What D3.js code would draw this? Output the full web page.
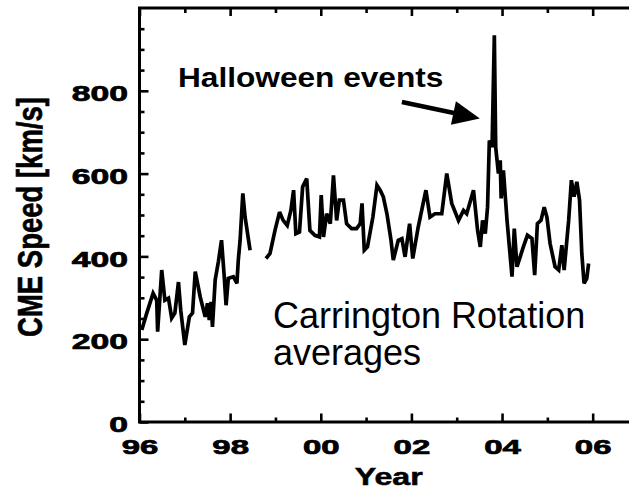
<!DOCTYPE html>
<html><head><meta charset="utf-8">
<script src="https://cdn.jsdelivr.net/npm/d3@7"></script>
<style>body{margin:0;background:#fff}svg{display:block}</style></head>
<body>
<svg id="c" width="629" height="488"></svg>
<script>
// Carrington-rotation averaged CME speeds (null = data gap, mid-1998)
const years = [
 1996.05,1996.16,1996.30,1996.38,1996.40,1996.49,1996.56,1996.64,1996.71,1996.78,
 1996.86,1996.91,1997.00,1997.10,1997.17,1997.23,1997.34,1997.45,1997.50,1997.54,
 1997.58,1997.61,1997.67,1997.74,1997.81,1997.87,1997.91,1997.96,1998.07,1998.15,
 1998.18,1998.22,1998.28,1998.33,1998.44,
 1998.60,
 1998.79,1998.88,1998.99,1999.09,1999.17,1999.26,1999.34,1999.40,1999.45,1999.53,
 1999.60,1999.69,1999.76,1999.87,1999.97,2000.01,2000.06,2000.13,2000.21,2000.28,
 2000.35,2000.41,2000.50,2000.57,2000.68,2000.79,2000.87,2000.91,2000.96,2001.03,
 2001.15,2001.24,2001.31,2001.38,2001.46,2001.55,2001.60,2001.71,2001.79,2001.86,
 2001.96,2002.03,2002.15,2002.32,2002.41,2002.52,2002.67,2002.78,2002.89,2003.04,
 2003.15,2003.22,2003.37,2003.46,2003.52,2003.57,2003.63,2003.68,2003.72,2003.78,
 2003.83,2003.86,2003.92,2003.96,2003.98,2004.03,2004.11,2004.22,2004.27,2004.33,
 2004.40,2004.47,2004.56,2004.66,2004.72,2004.78,2004.86,2004.93,2004.99,2005.06,
 2005.17,2005.25,2005.32,2005.37,2005.47,2005.53,2005.59,2005.65,2005.71,2005.76,
 2005.81,2005.87,2005.91
];
const speeds = [
 222,263,311,294,218,367,294,299,251,263,
 338,270,186,254,263,363,302,254,287,246,
 290,230,343,387,439,351,282,347,351,335,
 391,439,552,495,415,
 null,
 395,407,463,507,487,475,511,560,455,459,
 568,588,463,451,447,548,447,503,479,596,
 487,536,536,479,467,467,479,528,415,423,
 495,572,560,544,503,439,391,439,443,399,
 479,395,471,560,495,503,503,600,528,487,
 511,503,560,463,423,487,455,519,680,664,
 934,664,600,632,540,608,487,351,467,375,
 399,423,451,443,355,479,487,519,495,431,
 375,367,427,367,487,584,544,580,536,407,
 335,347,383
];
const xTicks = [1996,1998,2000,2002,2004,2006];
const xTickLabels = ["96","98","00","02","04","06"];
const xMinor = [1997,1999,2001,2003,2005,2007];
const yTicks = [0,200,400,600,800];
const yTickLabels = ["0","200","400","600","800"];
const yMinor = [50,100,150,250,300,350,450,500,550,650,700,750,850,900,950];
const arrowFrom = [2001.79, 773];
const arrowTo = [2003.51, 733];

const svg = d3.select("#c");
const x = d3.scaleLinear().domain([1996,2007]).range([139.5,638]);
const y = d3.scaleLinear().domain([0,1000]).range([422,8]);
const FONT = "'Liberation Sans', Arial, Helvetica, sans-serif";

function styleAxis(g){
  g.select(".domain").remove();
  g.selectAll(".tick line").attr("stroke","#000").attr("stroke-width",2.6);
}
// minor ticks
svg.append("g").attr("transform",`translate(0,${y(0)})`)
  .call(d3.axisBottom(x).tickValues(xMinor).tickSizeInner(-4.5).tickSizeOuter(0).tickFormat(""))
  .call(styleAxis);
svg.append("g").attr("transform",`translate(0,${y(1000)})`)
  .call(d3.axisTop(x).tickValues(xMinor).tickSizeInner(-5).tickSizeOuter(0).tickFormat(""))
  .call(styleAxis);
svg.append("g").attr("transform",`translate(${x(1996)},0)`)
  .call(d3.axisLeft(y).tickValues(yMinor).tickSizeInner(-5).tickSizeOuter(0).tickFormat(""))
  .call(styleAxis);
svg.append("g").attr("transform",`translate(${x(2007)},0)`)
  .call(d3.axisRight(y).tickValues(yMinor).tickSizeInner(-5).tickSizeOuter(0).tickFormat(""))
  .call(styleAxis);
// major ticks
const SX = 1.57;
const bx = svg.append("g").attr("transform",`translate(0,${y(0)})`)
  .call(d3.axisBottom(x).tickValues(xTicks).tickSizeInner(-8.5).tickSizeOuter(0)
    .tickPadding(17.5).tickFormat((d,i)=>xTickLabels[i]))
  .call(styleAxis);
bx.selectAll("text").attr("fill","#000").attr("font-family",FONT).attr("font-weight","bold")
  .attr("font-size",21).attr("stroke","#000").attr("stroke-width",0.7)
  .attr("transform",`scale(${SX},1)`);
svg.append("g").attr("transform",`translate(0,${y(1000)})`)
  .call(d3.axisTop(x).tickValues(xTicks).tickSizeInner(-8).tickSizeOuter(0).tickFormat(""))
  .call(styleAxis);
const ly = svg.append("g").attr("transform",`translate(${x(1996)},0)`)
  .call(d3.axisLeft(y).tickValues(yTicks).tickSizeInner(-9).tickSizeOuter(0)
    .tickPadding(11.5).tickFormat((d,i)=>yTickLabels[i]))
  .call(styleAxis);
ly.selectAll("text").attr("fill","#000").attr("font-family",FONT).attr("font-weight","bold")
  .attr("font-size",21.5).attr("x",-11.5/SX).attr("dy","0.45em")
  .attr("stroke","#000").attr("stroke-width",0.7)
  .attr("transform",`scale(${SX},1)`);
svg.append("g").attr("transform",`translate(${x(2007)},0)`)
  .call(d3.axisRight(y).tickValues(yTicks).tickSizeInner(-8).tickSizeOuter(0).tickFormat(""))
  .call(styleAxis);

// frame
svg.append("rect").attr("x",x(1996)).attr("y",y(1000))
  .attr("width",x(2007)-x(1996)).attr("height",y(0)-y(1000))
  .attr("fill","none").attr("stroke","#000").attr("stroke-width",3);

// data line
const line = d3.line().defined((d,i)=>speeds[i]!==null)
  .x((d,i)=>x(years[i])).y((d,i)=>y(speeds[i]));
svg.append("path").datum(years).attr("d",line)
  .attr("fill","none").attr("stroke","#000").attr("stroke-width",3.7)
  .attr("stroke-linejoin","miter").attr("stroke-miterlimit",3);

// axis titles
svg.append("text").attr("transform",`translate(${(x(2001)+x(2002))/2},484.5) scale(1.4,1)`)
  .attr("text-anchor","middle").attr("font-family",FONT).attr("font-weight","bold")
  .attr("font-size",23).attr("stroke","#000").attr("stroke-width",0.5).text("Year");
svg.append("text").attr("transform","translate(41.7,217) scale(1.27,1) rotate(-90)")
  .attr("text-anchor","middle").attr("font-family",FONT).attr("font-weight","bold")
  .attr("font-size",27.5).attr("stroke","#000").attr("stroke-width",0.5).text("CME Speed [km/s]");

// annotations
svg.append("text").attr("transform","translate(178,86.7) scale(1.13,1)")
  .attr("font-family",FONT).attr("font-weight","bold").attr("font-size",28)
  .text("Halloween events");
const ax0 = x(arrowFrom[0]), ay0 = y(arrowFrom[1]), ax1 = x(arrowTo[0]), ay1 = y(arrowTo[1]);
const L = Math.hypot(ax1-ax0, ay1-ay0), ux = (ax1-ax0)/L, uy = (ay1-ay0)/L;
const hl = 27, hw = 12;
svg.append("line").attr("x1",ax0).attr("y1",ay0).attr("x2",ax1-ux*hl*0.8).attr("y2",ay1-uy*hl*0.8)
  .attr("stroke","#000").attr("stroke-width",4.5);
const bxc = ax1-ux*hl, byc = ay1-uy*hl;
svg.append("polygon").attr("points",
  [[ax1,ay1],[bxc-uy*hw,byc+ux*hw],[bxc+uy*hw,byc-ux*hw]].map(p=>p.join(",")).join(" "))
  .attr("fill","#000");
svg.append("text").attr("x",273).attr("y",328).attr("font-family",FONT)
  .attr("font-size",36).text("Carrington Rotation");
svg.append("text").attr("x",273).attr("y",365).attr("font-family",FONT)
  .attr("font-size",36).text("averages");
</script>
</body></html>
